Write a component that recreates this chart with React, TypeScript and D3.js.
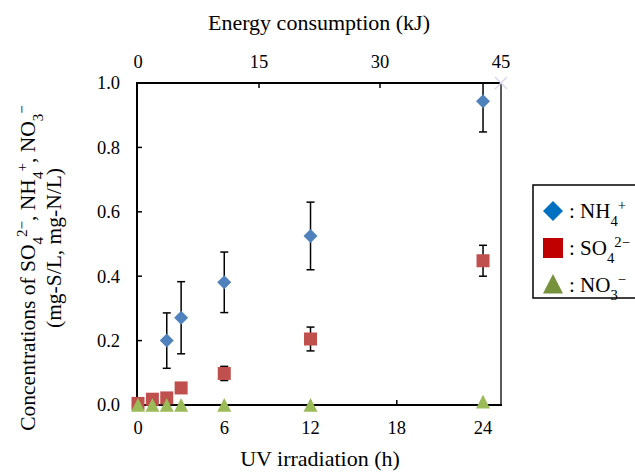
import React from "react";
import * as d3 from "d3";

// UV irradiation time (h)
const hoursNH4 = [2, 3, 6, 12, 24];
const nh4 = [0.2, 0.271, 0.381, 0.525, 0.943];
const nh4Err = [0.086, 0.112, 0.094, 0.105, 0.095];

const hoursSO4 = [0, 1, 2, 3, 6, 12, 24];
const so4 = [0.005, 0.018, 0.022, 0.053, 0.098, 0.205, 0.448];
const so4Err = [0, 0, 0, 0, 0.022, 0.037, 0.048];

const hoursNO3 = [0, 1, 2, 3, 6, 12, 24];
const no3 = [0, 0, 0, 0, 0, 0, 0.01];

const xTicks = [0, 6, 12, 18, 24];
const topTicks = [0, 15, 30, 45];
const yTicks = [0, 0.2, 0.4, 0.6, 0.8, 1.0];

const FONT = "'Liberation Serif', 'Times New Roman', serif";

export default function App() {
  const width = 635;
  const height = 473;
  const left = 137, right = 501, top = 83, bottom = 405;

  const x = d3.scaleLinear().domain([0, 25.25]).range([left + 1, right]);
  const xTop = d3.scaleLinear().domain([0, 45]).range([left + 1, right]);
  const y = d3.scaleLinear().domain([0, 1]).range([bottom, top]);

  const clipY = (v: number) => y(Math.min(1, Math.max(0, v)));

  const errBar = (cx: number, v: number, e: number, key: string) => {
    if (!e) return null;
    const y1 = clipY(v + e), y2 = clipY(v - e);
    return (
      <g key={key} stroke="#000" strokeWidth={1.5}>
        <line x1={cx} x2={cx} y1={y1} y2={y2} />
        {v + e <= 1 && <line x1={cx - 4} x2={cx + 4} y1={y1} y2={y1} />}
        <line x1={cx - 4} x2={cx + 4} y1={y2} y2={y2} />
      </g>
    );
  };

  const diamond = (cx: number, cy: number, r: number, fill: string, key: string) => (
    <path key={key} d={`M${cx},${cy - r}L${cx + r},${cy}L${cx},${cy + r}L${cx - r},${cy}Z`} fill={fill} />
  );
  const square = (cx: number, cy: number, r: number, fill: string, key: string) => (
    <rect key={key} x={cx - r} y={cy - r} width={2 * r} height={2 * r} fill={fill} />
  );
  const triangle = (cx: number, cy: number, r: number, fill: string, key: string) => (
    <path key={key} d={`M${cx},${cy - r}L${cx + r},${cy + r * 0.95}L${cx - r},${cy + r * 0.95}Z`} fill={fill} />
  );

  const sub = (t: string) => <tspan baselineShift="sub" fontSize="0.7em">{t}</tspan>;
  const sup = (t: string) => <tspan baselineShift="super" fontSize="0.7em">{t}</tspan>;

  return (
    <svg width={width} height={height} style={{ display: "block", position: "absolute", left: 0, top: 0 }} fontFamily={FONT}>
      <rect width={width} height={height} fill="#fff" />

      {/* axes frame */}
      <line x1={right} x2={right} y1={top} y2={bottom} stroke="#222" strokeWidth={1.5} />
      <line x1={left} x2={right} y1={top} y2={top} stroke="#000" strokeWidth={2} />
      <line x1={left} x2={right + 1} y1={bottom} y2={bottom} stroke="#000" strokeWidth={2} />
      <line x1={left} x2={left} y1={top - 1} y2={bottom + 1} stroke="#000" strokeWidth={2} />

      {/* left ticks */}
      {yTicks.map((t) => (
        <g key={"y" + t}>
          <line x1={left} x2={left + 5} y1={y(t)} y2={y(t)} stroke="#000" strokeWidth={1.5} />
          <text x={120} y={y(t)} dy="0.35em" textAnchor="end" fontSize={18.5}>{t.toFixed(1)}</text>
        </g>
      ))}

      {/* bottom ticks */}
      {xTicks.map((t) => (
        <g key={"x" + t}>
          <line x1={x(t)} x2={x(t)} y1={bottom} y2={bottom - 5} stroke="#000" strokeWidth={1.5} />
          <text x={x(t)} y={434} textAnchor="middle" fontSize={18.5}>{t}</text>
        </g>
      ))}

      {/* top ticks */}
      {topTicks.map((t) => (
        <g key={"t" + t}>
          {t > 0 && t < 45 && <line x1={xTop(t)} x2={xTop(t)} y1={top} y2={top + 5} stroke="#000" strokeWidth={1.5} />}
          <text x={xTop(t)} y={68} textAnchor="middle" fontSize={18.5}>{t}</text>
        </g>
      ))}

      {/* faint corner marker */}
      <g stroke="#d9d3ea" strokeWidth={1.2}>
        <line x1={right - 6} x2={right + 6} y1={top - 6} y2={top + 6} />
        <line x1={right - 6} x2={right + 6} y1={top + 6} y2={top - 6} />
      </g>

      {/* error bars */}
      {hoursNH4.map((h, i) => errBar(x(h), nh4[i], nh4Err[i], "en" + i))}
      {hoursSO4.map((h, i) => errBar(x(h), so4[i], so4Err[i], "es" + i))}

      {/* markers */}
      {hoursSO4.map((h, i) => square(x(h), y(so4[i]), 6.5, "#c0504d", "s" + i))}
      {hoursNO3.map((h, i) => triangle(x(h), y(no3[i]), 7, "#9bbb59", "n" + i))}
      {hoursNH4.map((h, i) => diamond(x(h), y(nh4[i]), 7, "#4f81bd", "d" + i))}

      {/* axis titles */}
      <text x={319} y={30} textAnchor="middle" fontSize={22}>Energy consumption (kJ)</text>
      <text x={320} y={466} textAnchor="middle" fontSize={22}>UV irradiation (h)</text>
      <g transform="translate(35,268) rotate(-90)">
        <text x={0} y={0} textAnchor="middle" fontSize={21.5}>
          Concentrations of SO{sub("4")}{sup("2−")}, NH{sub("4")}{sup("+")}, NO{sub("3")}{sup("−")}
        </text>
      </g>
      <text transform="translate(61,248) rotate(-90)" textAnchor="middle" fontSize={21.5}>(mg-S/L, mg-N/L)</text>

      {/* legend */}
      <rect x={533} y={185} width={120} height={113} fill="#fff" stroke="#000" strokeWidth={1.5} />
      {diamond(553, 211, 10, "#0070c0", "ld")}
      <text x={569} y={218} fontSize={21}>: NH{sub("4")}{sup("+")}</text>
      {square(553, 248, 10, "#c00000", "ls")}
      <text x={569} y={255} fontSize={21}>: SO{sub("4")}{sup("2−")}</text>
      {triangle(553, 284, 10, "#76923c", "lt")}
      <text x={569} y={292} fontSize={21}>: NO{sub("3")}{sup("−")}</text>
    </svg>
  );
}
